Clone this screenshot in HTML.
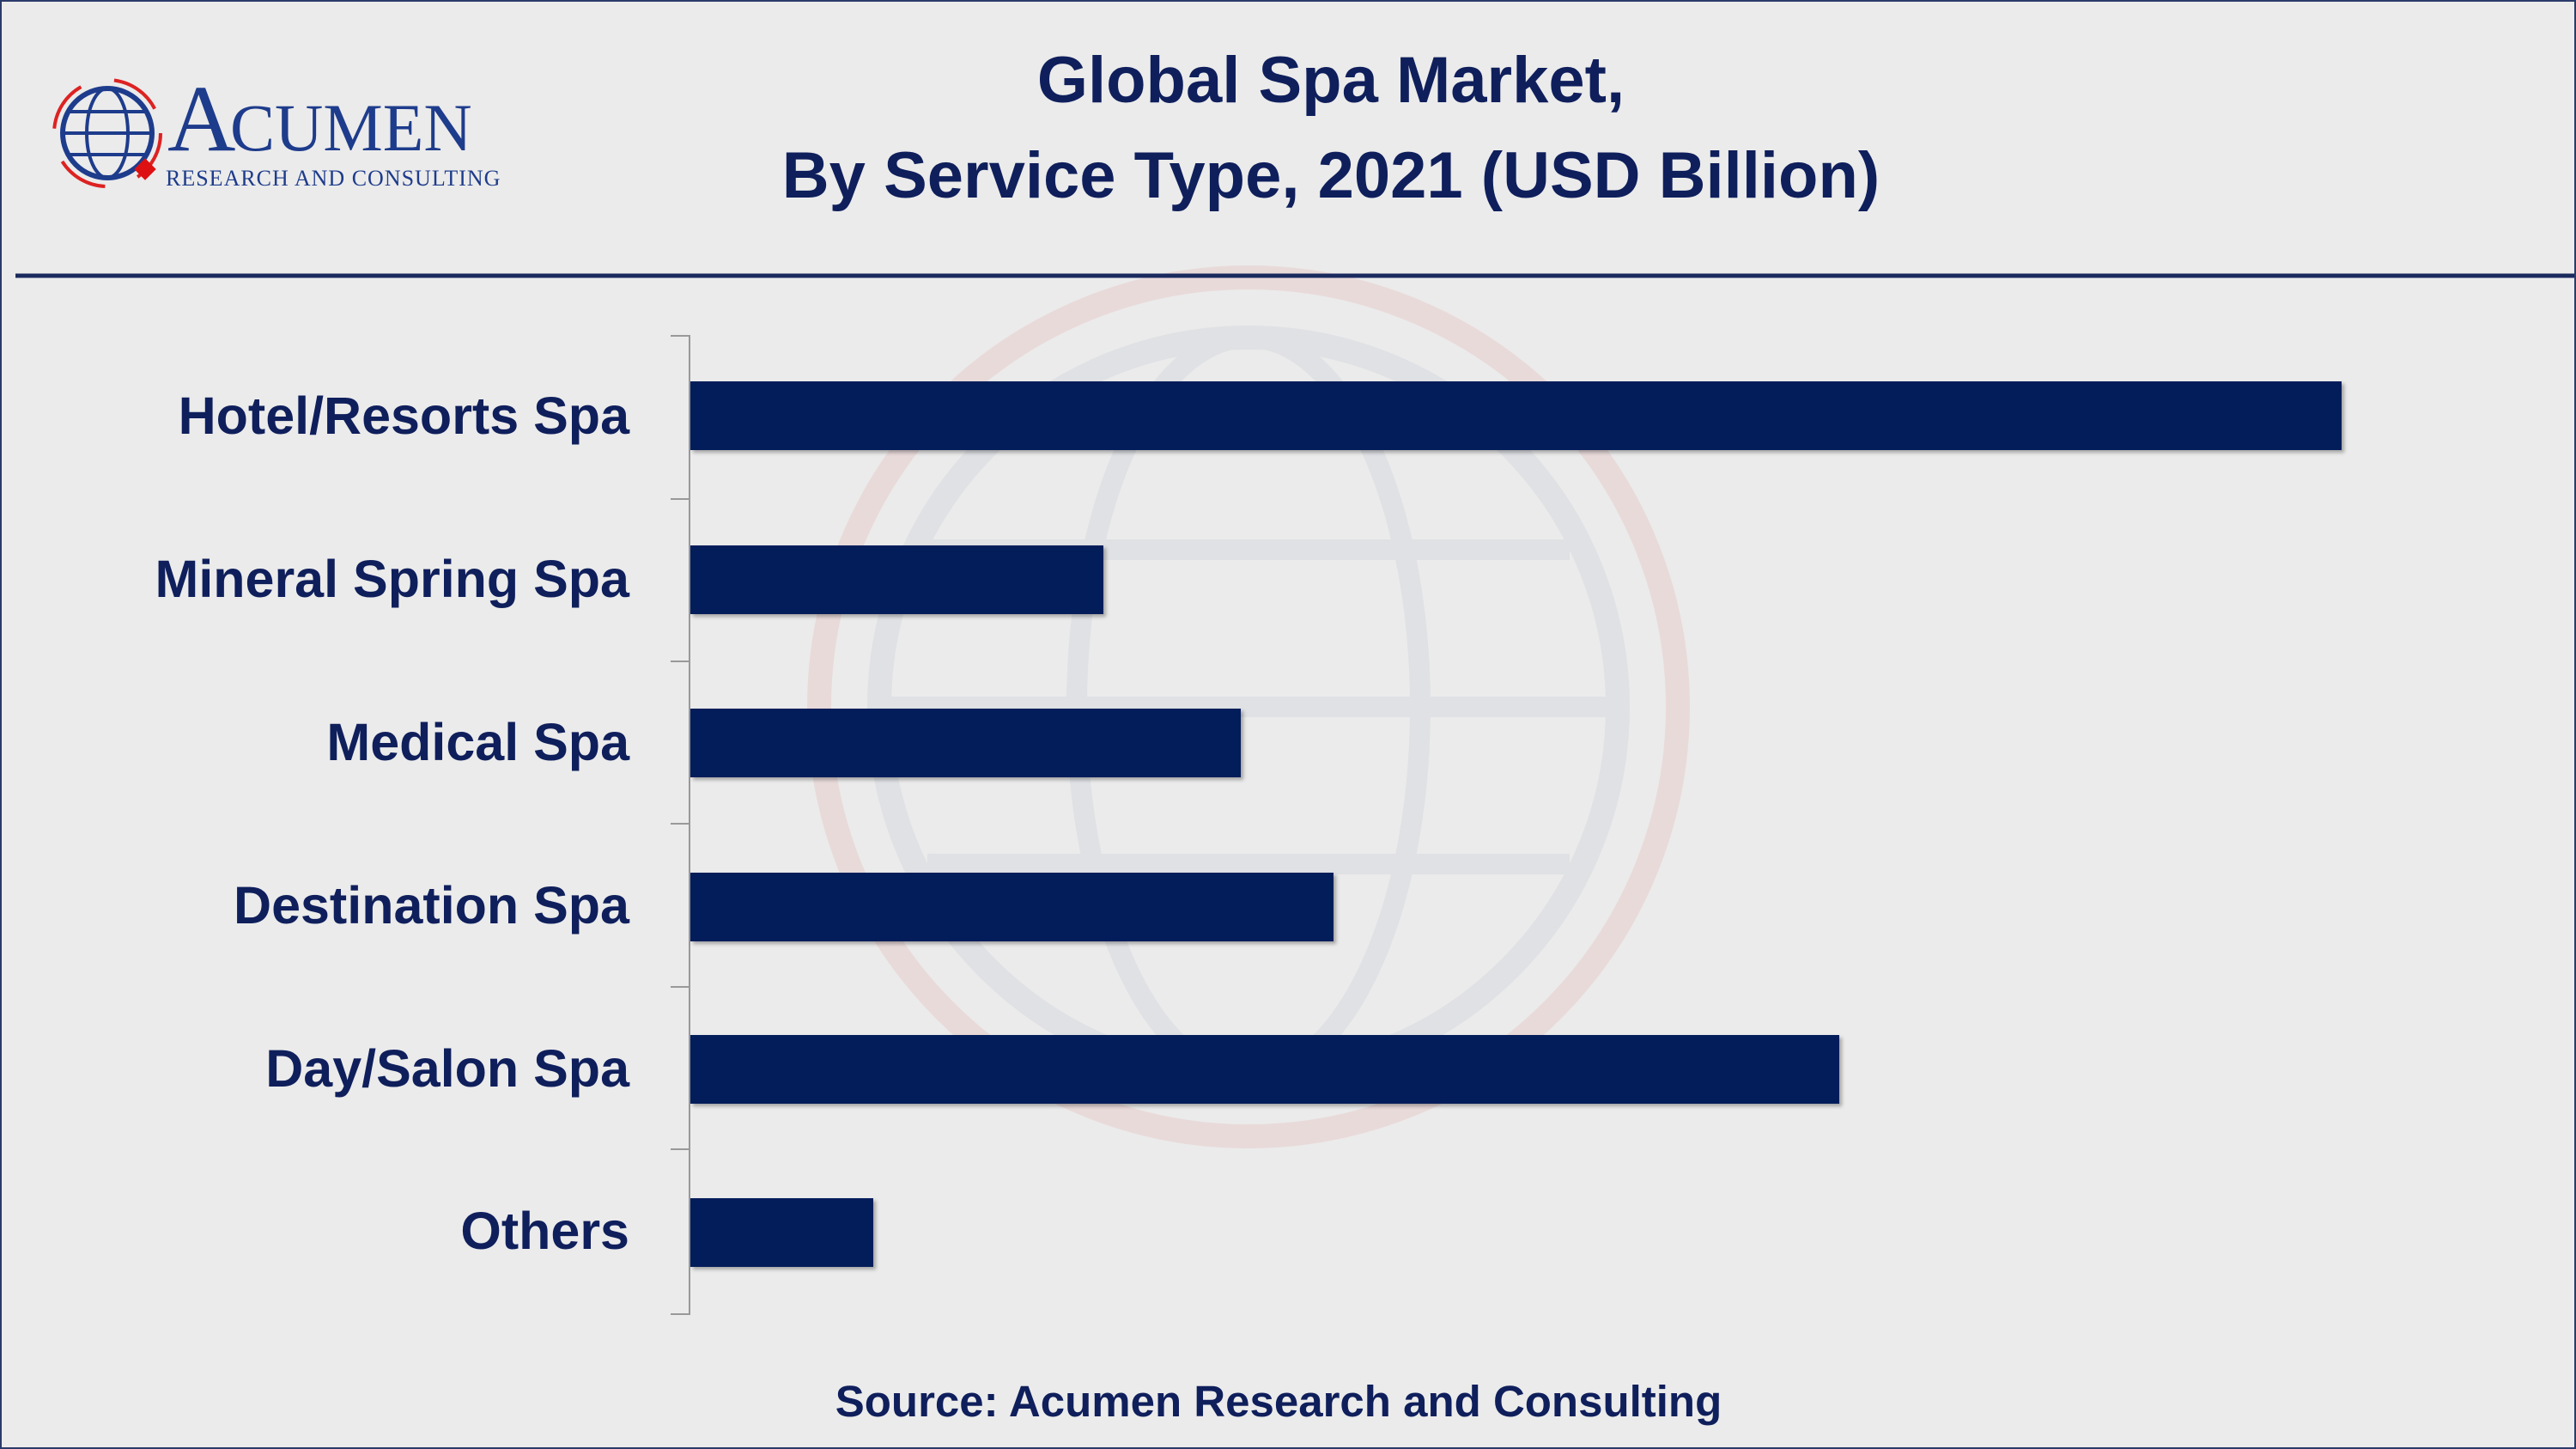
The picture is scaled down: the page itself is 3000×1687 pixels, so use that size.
<!DOCTYPE html>
<html><head><meta charset="utf-8"><style>
html,body{margin:0;padding:0}
body{width:3000px;height:1687px;background:#ebebeb;position:relative;overflow:hidden;font-family:"Liberation Sans",sans-serif}
.frame{position:absolute;left:0;top:0;width:2996px;height:1683px;border:2px solid #2a3a6a}
.t{position:absolute;left:0;width:3100px;text-align:center;font-weight:bold;color:#0f1f5c;font-size:76px;line-height:90px}
.lab{position:absolute;right:2267px;font-weight:bold;color:#0f1f5c;font-size:61px;line-height:80px;white-space:nowrap;text-align:right}
.bar{position:absolute;left:805px;height:80px;background:#031d5a;box-shadow:3px 3px 4px rgba(0,0,0,0.3)}
.tick{position:absolute;left:781px;width:23px;height:2px;background:#999}
</style></head><body>
<svg style="position:absolute;left:0;top:0" width="3000" height="1687">
 <g fill="none" opacity="0.22">
  <circle cx="1454" cy="823" r="500" stroke="#e5a0a0" stroke-width="28"/>
  <ellipse cx="1454" cy="823" rx="430" ry="430" stroke="#b8bfd0" stroke-width="28"/>
  <ellipse cx="1454" cy="823" rx="200" ry="430" stroke="#b8bfd0" stroke-width="24"/>
  <line x1="1024" y1="823" x2="1884" y2="823" stroke="#b8bfd0" stroke-width="24"/>
  <line x1="1080" y1="640" x2="1828" y2="640" stroke="#b8bfd0" stroke-width="24"/>
  <line x1="1080" y1="1006" x2="1828" y2="1006" stroke="#b8bfd0" stroke-width="24"/>
 </g>
 <line x1="18" y1="321" x2="3000" y2="321" stroke="#1a2a5e" stroke-width="5"/>
 <line x1="803" y1="391" x2="803" y2="1530" stroke="#999" stroke-width="2"/>
 <circle cx="125" cy="155" r="52" fill="none" stroke="#1e3c8c" stroke-width="6"/>
 <ellipse cx="125" cy="155" rx="24" ry="52" fill="none" stroke="#1e3c8c" stroke-width="4"/>
 <line x1="73" y1="155" x2="177" y2="155" stroke="#1e3c8c" stroke-width="4"/>
 <line x1="80" y1="130" x2="170" y2="130" stroke="#1e3c8c" stroke-width="4"/>
 <line x1="80" y1="180" x2="170" y2="180" stroke="#1e3c8c" stroke-width="4"/>
 <circle cx="125" cy="155" r="62" fill="none" stroke="#d22" stroke-width="4" stroke-dasharray="60 40"/>
 <rect x="160" y="188" width="18" height="18" fill="#d11" transform="rotate(45 169 197)"/>
 <text x="195" y="175" font-family="Liberation Serif,serif" font-size="110" fill="#1e3c8c">A</text>
 <text x="268" y="175" font-family="Liberation Serif,serif" font-size="78" fill="#1e3c8c">CUMEN</text>
 <text x="193" y="216" font-family="Liberation Serif,serif" font-size="26" fill="#1e3c8c" letter-spacing="1">RESEARCH AND CONSULTING</text>
</svg>
<div class="frame"></div>
<div class="t" style="top:49px">Global Spa Market,</div>
<div class="t" style="top:160px">By Service Type, 2021 (USD Billion)</div>

<div class="tick" style="top:390px"></div>
<div class="tick" style="top:580px"></div>
<div class="tick" style="top:769px"></div>
<div class="tick" style="top:958px"></div>
<div class="tick" style="top:1148px"></div>
<div class="tick" style="top:1337px"></div>
<div class="tick" style="top:1529px"></div>

<div class="bar" style="left:804px;top:444px;width:1923px"></div>
<div class="bar" style="left:804px;top:635px;width:481px"></div>
<div class="bar" style="left:804px;top:825px;width:641px"></div>
<div class="bar" style="left:804px;top:1016px;width:749px"></div>
<div class="bar" style="left:804px;top:1205px;width:1338px"></div>
<div class="bar" style="left:804px;top:1395px;width:213px"></div>

<div class="lab" style="top:444px">Hotel/Resorts Spa</div>
<div class="lab" style="top:634px">Mineral Spring Spa</div>
<div class="lab" style="top:824px">Medical Spa</div>
<div class="lab" style="top:1014px">Destination Spa</div>
<div class="lab" style="top:1204px">Day/Salon Spa</div>
<div class="lab" style="top:1393px">Others</div>

<div style="position:absolute;left:0;width:2978px;top:1602px;text-align:center;font-weight:bold;color:#0f1f5c;font-size:51px;line-height:60px">Source: Acumen Research and Consulting</div>
</body></html>
